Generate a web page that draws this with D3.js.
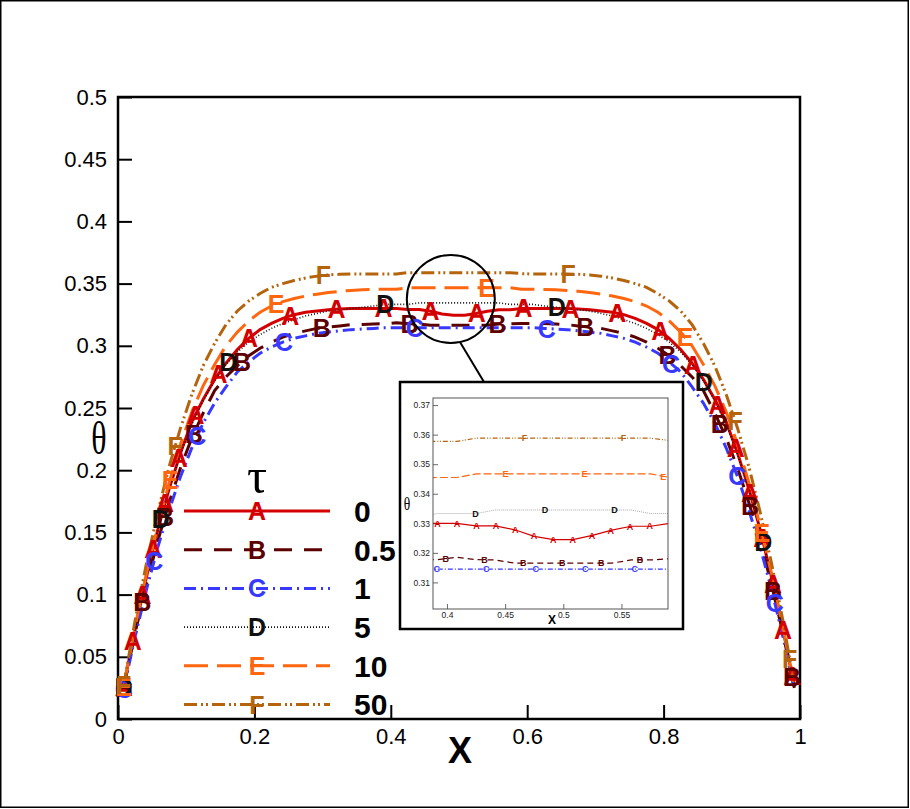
<!DOCTYPE html>
<html lang="en">
<head>
  <meta charset="UTF-8">
  <title>theta profiles</title>
  <style>
    body { margin: 0; background: #fff; }
    svg { display: block; }
  </style>
</head>
<body>
  <div id="chart"></div>
  <script src="https://d3js.org/d3.v7.min.js"></script>
  <script>

    // cell centres along X
    var xGrid = [0.0083, 0.025, 0.0417, 0.0583, 0.075, 0.0917, 0.1083, 0.125, 0.1417, 0.1583,
      0.175, 0.1917, 0.2083, 0.225, 0.2417, 0.2583, 0.275, 0.2917, 0.3083, 0.325,
      0.3417, 0.3583, 0.375, 0.3917, 0.4083, 0.425, 0.4417, 0.4583, 0.475, 0.4917,
      0.5083, 0.525, 0.5417, 0.5583, 0.575, 0.5917, 0.6083, 0.625, 0.6417, 0.6583,
      0.675, 0.6917, 0.7083, 0.725, 0.7417, 0.7583, 0.775, 0.7917, 0.8083, 0.825,
      0.8417, 0.8583, 0.875, 0.8917, 0.9083, 0.925, 0.9417, 0.9583, 0.975, 0.9917];

    // theta for each tau
    var thetaTau0 = [0.026, 0.072, 0.114, 0.152, 0.185, 0.214, 0.239, 0.257, 0.273, 0.286,
      0.297, 0.306, 0.313, 0.318, 0.322, 0.325, 0.327, 0.328, 0.329, 0.3295,
      0.330, 0.330, 0.330, 0.330, 0.330, 0.3291, 0.3291, 0.3278, 0.3256, 0.3245,
      0.3245, 0.3259, 0.3277, 0.329, 0.329, 0.330, 0.330, 0.330, 0.330, 0.330,
      0.3295, 0.329, 0.328, 0.327, 0.325, 0.322, 0.318, 0.313, 0.306, 0.297,
      0.286, 0.273, 0.257, 0.239, 0.214, 0.185, 0.152, 0.114, 0.072, 0.026];
    var thetaTau05 = [0.025, 0.069, 0.108, 0.143, 0.174, 0.202, 0.226, 0.246, 0.264, 0.275,
      0.284, 0.292, 0.298, 0.303, 0.307, 0.310, 0.312, 0.314, 0.315, 0.316,
      0.317, 0.3172, 0.3176, 0.3177, 0.3185, 0.3177, 0.3176, 0.3165, 0.3165, 0.3165,
      0.3165, 0.3165, 0.3165, 0.3176, 0.3176, 0.318, 0.318, 0.318, 0.3175, 0.317,
      0.316, 0.315, 0.314, 0.312, 0.310, 0.307, 0.303, 0.298, 0.292, 0.284,
      0.275, 0.264, 0.246, 0.226, 0.202, 0.174, 0.143, 0.108, 0.069, 0.025];
    var thetaTau1 = [0.024, 0.066, 0.104, 0.138, 0.168, 0.195, 0.218, 0.238, 0.254, 0.267,
      0.279, 0.287, 0.294, 0.299, 0.303, 0.306, 0.308, 0.310, 0.311, 0.312,
      0.313, 0.3135, 0.314, 0.3145, 0.3145, 0.3145, 0.3145, 0.3145, 0.3145, 0.3145,
      0.3145, 0.3145, 0.3145, 0.3145, 0.3145, 0.3145, 0.3145, 0.314, 0.3135, 0.313,
      0.312, 0.311, 0.310, 0.308, 0.306, 0.303, 0.299, 0.294, 0.287, 0.279,
      0.267, 0.254, 0.238, 0.218, 0.195, 0.168, 0.138, 0.104, 0.066, 0.024];
    var thetaTau5 = [0.026, 0.072, 0.114, 0.152, 0.185, 0.213, 0.237, 0.256, 0.272, 0.285,
      0.295, 0.303, 0.309, 0.314, 0.318, 0.321, 0.324, 0.326, 0.328, 0.329,
      0.330, 0.331, 0.332, 0.3333, 0.3333, 0.3333, 0.3345, 0.3345, 0.3345, 0.3345,
      0.3345, 0.3345, 0.3345, 0.3345, 0.3333, 0.3333, 0.3333, 0.332, 0.331, 0.330,
      0.329, 0.328, 0.326, 0.324, 0.321, 0.318, 0.314, 0.309, 0.303, 0.295,
      0.285, 0.272, 0.256, 0.237, 0.213, 0.185, 0.152, 0.114, 0.072, 0.026];
    var thetaTau10 = [0.026, 0.074, 0.117, 0.155, 0.190, 0.221, 0.247, 0.268, 0.285, 0.300,
      0.311, 0.320, 0.327, 0.332, 0.3355, 0.338, 0.340, 0.3415, 0.3428, 0.3438,
      0.3445, 0.345, 0.3453, 0.3455, 0.3455, 0.3467, 0.3467, 0.3467, 0.3467, 0.3467,
      0.3467, 0.3467, 0.3467, 0.3467, 0.3467, 0.3455, 0.3455, 0.3453, 0.345, 0.3445,
      0.3438, 0.3428, 0.3415, 0.340, 0.338, 0.3355, 0.332, 0.327, 0.320, 0.311,
      0.300, 0.285, 0.268, 0.247, 0.221, 0.190, 0.155, 0.117, 0.074, 0.026];
    var thetaTau50 = [0.027, 0.079, 0.125, 0.166, 0.203, 0.234, 0.261, 0.284, 0.302, 0.317,
      0.328, 0.336, 0.342, 0.347, 0.350, 0.3525, 0.3545, 0.356, 0.357, 0.3575,
      0.3577, 0.3577, 0.3577, 0.3577, 0.3577, 0.3588, 0.3588, 0.3588, 0.3588, 0.3588,
      0.3588, 0.3588, 0.3588, 0.3588, 0.3588, 0.358, 0.3577, 0.3577, 0.3577, 0.3577,
      0.3575, 0.357, 0.356, 0.3545, 0.3525, 0.350, 0.347, 0.342, 0.336, 0.328,
      0.317, 0.302, 0.284, 0.261, 0.234, 0.203, 0.166, 0.125, 0.079, 0.027];

    var tauLabels = ["0", "0.5", "1", "5", "10", "50"];
    var symbolLetters = ["A", "B", "C", "D", "E", "F"];

    var xTicks = [0, 0.2, 0.4, 0.6, 0.8, 1];
    var xTickLabels = ["0", "0.2", "0.4", "0.6", "0.8", "1"];
    var yTicks = [0, 0.05, 0.1, 0.15, 0.2, 0.25, 0.3, 0.35, 0.4, 0.45, 0.5];
    var yTickLabels = ["0", "0.05", "0.1", "0.15", "0.2", "0.25", "0.3", "0.35", "0.4", "0.45", "0.5"];
    var insetXTicks = [0.4, 0.45, 0.5, 0.55];
    var insetXTickLabels = ["0.4", "0.45", "0.5", "0.55"];
    var insetYTicks = [0.31, 0.32, 0.33, 0.34, 0.35, 0.36, 0.37];
    var insetYTickLabels = ["0.31", "0.32", "0.33", "0.34", "0.35", "0.36", "0.37"];

    var seriesValues = [thetaTau0, thetaTau05, thetaTau1, thetaTau5, thetaTau10, thetaTau50];

    // styles
    var colors = ["#d40000", "#5c0000", "#3838ff", "#111111", "#ff6610", "#b5640e"];
    var mainWidth = [3, 3, 3, 1.6, 3, 3];
    var mainDash = [null, "18,12", "12,5,2,5", "1,2", "24,9", "13,4,2,3,2,4"];
    var insetWidth = [1.2, 1.2, 1.2, 0.8, 1.2, 1.2];
    var insetDash = [null, "6,4", "5,2,1,2", "1,1", "8,3", "5,2,1,1.5,1,2"];
    var mainSpacing = [47, 88, 132, 172, 212, 245];
    var insetSpacing = [19.6, 39, 49.5, 69.7, 79, 99];
    var insetOffset = [0, 28, 19, 58, 9, 8];

    var sans = "'Liberation Sans', Arial, Helvetica, sans-serif";
    var serif = "'Liberation Serif', 'Times New Roman', serif";

    var svg = d3.select("#chart").append("svg")
        .attr("width", 910)
        .attr("height", 809);

    svg.append("rect")
        .attr("x", 0.75).attr("y", 0.75)
        .attr("width", 907.5).attr("height", 806.5)
        .attr("fill", "#fff")
        .attr("stroke", "#000")
        .attr("stroke-width", 1.5);

    var x = d3.scaleLinear().domain([0, 1]).range([118, 800]);
    var y = d3.scaleLinear().domain([0, 0.5]).range([719, 97]);

    var series = seriesValues.map(function(vals, i) {
      return {
        letter: symbolLetters[i],
        label: tauLabels[i],
        points: xGrid.map(function(xv, k) { return [xv, vals[k]]; }),
        i: i
      };
    });

    // axes, ticks pointing in
    var gx = svg.append("g").attr("transform", "translate(0,719)");
    gx.call(d3.axisBottom(x).tickValues(d3.range(0, 1.0001, 0.05)).tickSize(-8).tickFormat(""));
    gx.call(d3.axisBottom(x).tickValues(xTicks).tickSize(-14).tickPadding(9)
        .tickFormat(function(d, i) { return xTickLabels[i]; }));
    var gy = svg.append("g").attr("transform", "translate(118,0)");
    gy.call(d3.axisLeft(y).tickValues(d3.range(0, 0.5001, 0.01)).tickSize(-8).tickFormat(""));
    gy.call(d3.axisLeft(y).tickValues(yTicks).tickSize(-14).tickPadding(11)
        .tickFormat(function(d, i) { return yTickLabels[i]; }));

    svg.selectAll(".domain").remove();
    svg.selectAll(".tick line").attr("stroke", "#000").attr("stroke-width", 2);
    svg.selectAll(".tick text")
        .attr("font-family", sans)
        .attr("font-size", 22)
        .attr("fill", "#000");

    svg.append("rect")
        .attr("x", 118).attr("y", 97)
        .attr("width", 682).attr("height", 622)
        .attr("fill", "none")
        .attr("stroke", "#000")
        .attr("stroke-width", 2.5);

    svg.append("text")
        .attr("x", 460).attr("y", 763)
        .attr("text-anchor", "middle")
        .attr("font-family", sans)
        .attr("font-weight", "bold")
        .attr("font-size", 36)
        .text("X");

    // tall, narrow theta like the reference
    svg.append("text")
        .attr("transform", "translate(99,454) scale(0.8,1.15)")
        .attr("text-anchor", "middle")
        .attr("font-family", serif)
        .attr("font-size", 40)
        .text("θ");

    var line = d3.line()
        .x(function(d) { return x(d[0]); })
        .y(function(d) { return y(d[1]); });

    // markers spaced along the drawn path by screen distance
    function placeAlong(node, spacing, offset) {
      var total = node.getTotalLength();
      var pts = [];
      for (var s = offset; s <= total + 0.5; s += spacing) {
        pts.push(node.getPointAtLength(Math.min(s, total)));
      }
      return pts;
    }

    var lines = svg.append("g").attr("class", "lines");
    var paths = lines.selectAll("path")
        .data(series)
        .enter()
        .append("path")
        .attr("d", function(d) { return line(d.points); })
        .attr("fill", "none")
        .attr("stroke", function(d) { return colors[d.i]; })
        .attr("stroke-width", function(d) { return mainWidth[d.i]; })
        .attr("stroke-dasharray", function(d) { return mainDash[d.i]; });

    var marks = svg.append("g").attr("class", "marks");
    paths.each(function(d) {
      var pts = placeAlong(this, mainSpacing[d.i], 0);
      marks.selectAll("text.m" + d.i)
          .data(pts)
          .enter()
          .append("text")
          .attr("class", "m" + d.i)
          .attr("x", function(p) { return p.x; })
          .attr("y", function(p) { return p.y; })
          .attr("dy", "0.36em")
          .attr("text-anchor", "middle")
          .attr("font-family", sans)
          .attr("font-weight", "bold")
          .attr("font-size", 25)
          .attr("fill", colors[d.i])
          .text(d.letter);
    });

    // legend
    var legend = svg.append("g").attr("class", "legend");
    legend.append("text")
        .attr("x", 257).attr("y", 493)
        .attr("text-anchor", "middle")
        .attr("font-family", serif)
        .attr("font-size", 50)
        .text("τ");
    var rows = legend.selectAll("g.row")
        .data(series)
        .enter()
        .append("g")
        .attr("class", "row")
        .attr("transform", function(d) { return "translate(0," + (511 + d.i * 38.7) + ")"; });
    rows.append("line")
        .attr("x1", 184).attr("x2", 330)
        .attr("stroke", function(d) { return colors[d.i]; })
        .attr("stroke-width", function(d) { return mainWidth[d.i]; })
        .attr("stroke-dasharray", function(d) { return mainDash[d.i]; });
    rows.append("text")
        .attr("x", 257).attr("dy", "0.36em")
        .attr("text-anchor", "middle")
        .attr("font-family", sans)
        .attr("font-weight", "bold")
        .attr("font-size", 25)
        .attr("fill", function(d) { return colors[d.i]; })
        .text(function(d) { return d.letter; });
    rows.append("text")
        .attr("x", 354).attr("dy", "0.36em")
        .attr("font-family", sans)
        .attr("font-weight", "bold")
        .attr("font-size", 30)
        .attr("fill", "#000")
        .text(function(d) { return d.label; });

    // magnifier lens and pointer
    var lensX = 0.488, lensY = 0.3376, lensR = 44, lensAngle = 78 * Math.PI / 180;
    svg.append("circle")
        .attr("cx", x(lensX)).attr("cy", y(lensY)).attr("r", lensR)
        .attr("fill", "none")
        .attr("stroke", "#000")
        .attr("stroke-width", 2);
    svg.append("line")
        .attr("x1", x(lensX) + lensR * Math.cos(lensAngle))
        .attr("y1", y(lensY) + lensR * Math.sin(lensAngle))
        .attr("x2", 484).attr("y2", 382)
        .attr("stroke", "#000")
        .attr("stroke-width", 2);

    // inset
    var inset = svg.append("g").attr("class", "inset");
    inset.append("rect")
        .attr("x", 400).attr("y", 382)
        .attr("width", 283).attr("height", 247)
        .attr("fill", "#fff")
        .attr("stroke", "#000")
        .attr("stroke-width", 2.5);

    var ix = d3.scaleLinear().domain([0.388, 0.59]).range([433, 668]);
    var iy = d3.scaleLinear().domain([0.301, 0.3724]).range([609, 398]);

    var igx = inset.append("g").attr("transform", "translate(0,609)");
    igx.call(d3.axisBottom(ix).tickValues(d3.range(0.39, 0.5901, 0.01)).tickSize(-3).tickFormat(""));
    igx.call(d3.axisBottom(ix).tickValues(insetXTicks).tickSize(-5).tickPadding(3)
        .tickFormat(function(d, i) { return insetXTickLabels[i]; }));
    var igy = inset.append("g").attr("transform", "translate(433,0)");
    igy.call(d3.axisLeft(iy).tickValues(d3.range(0.3025, 0.3724, 0.0025)).tickSize(-3).tickFormat(""));
    igy.call(d3.axisLeft(iy).tickValues(insetYTicks).tickSize(-5).tickPadding(3)
        .tickFormat(function(d, i) { return insetYTickLabels[i]; }));
    inset.selectAll(".domain").remove();
    inset.selectAll(".tick line").attr("stroke", "#444").attr("stroke-width", 0.8);
    inset.selectAll(".tick text")
        .attr("font-family", sans)
        .attr("font-size", 8.5)
        .attr("fill", "#222");

    inset.append("text")
        .attr("x", 552).attr("y", 624)
        .attr("text-anchor", "middle")
        .attr("font-family", sans)
        .attr("font-weight", "bold")
        .attr("font-size", 12)
        .text("X");
    inset.append("text")
        .attr("transform", "translate(407,510) scale(0.8,1.15)")
        .attr("text-anchor", "middle")
        .attr("font-family", serif)
        .attr("font-size", 17)
        .text("θ");

    svg.append("clipPath").attr("id", "inset-clip")
        .append("rect")
        .attr("x", 433).attr("y", 398)
        .attr("width", 235).attr("height", 211);

    var iline = d3.line()
        .x(function(d) { return ix(d[0]); })
        .y(function(d) { return iy(d[1]); });

    var ipaths = inset.append("g")
        .attr("clip-path", "url(#inset-clip)")
        .selectAll("path")
        .data(series)
        .enter()
        .append("path")
        .attr("d", function(d) {
          return iline(d.points.filter(function(p) { return p[0] > 0.37 && p[0] < 0.61; }));
        })
        .attr("fill", "none")
        .attr("stroke", function(d) { return colors[d.i]; })
        .attr("stroke-opacity", function(d) { return d.i === 3 ? 0.45 : 1; })
        .attr("stroke-width", function(d) { return insetWidth[d.i]; })
        .attr("stroke-dasharray", function(d) { return insetDash[d.i]; });

    var imarks = inset.append("g");
    ipaths.each(function(d) {
      var pts = placeAlong(this, insetSpacing[d.i], insetOffset[d.i])
          .filter(function(p) { return p.x >= 432 && p.x <= 669; });
      imarks.selectAll("text.im" + d.i)
          .data(pts)
          .enter()
          .append("text")
          .attr("class", "im" + d.i)
          .attr("x", function(p) { return p.x; })
          .attr("y", function(p) { return p.y; })
          .attr("dy", "0.36em")
          .attr("text-anchor", "middle")
          .attr("font-family", sans)
          .attr("font-weight", "bold")
          .attr("font-size", 9)
          .attr("fill", colors[d.i])
          .text(d.letter);
    });

    inset.append("rect")
        .attr("x", 433).attr("y", 398)
        .attr("width", 235).attr("height", 211)
        .attr("fill", "none")
        .attr("stroke", "#555")
        .attr("stroke-width", 1);

  </script>
</body>
</html>
